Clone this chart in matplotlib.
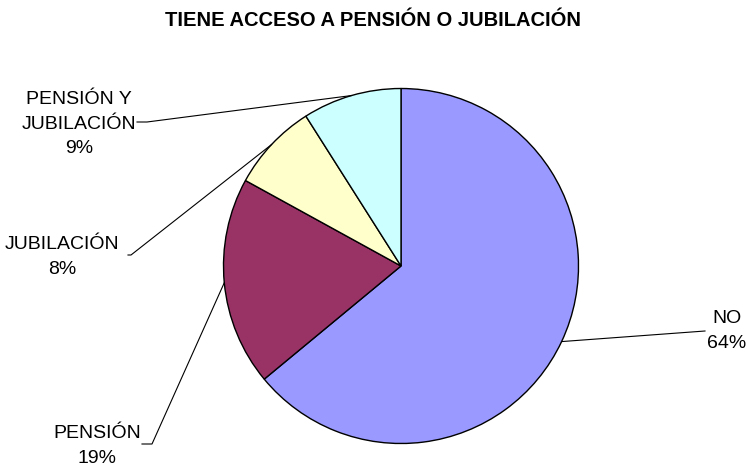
import numpy as np
import matplotlib.pyplot as plt

# slice data, in the order they go round the pie (clockwise from 12 o'clock)
labels = ['NO', 'PENSIÓN', 'JUBILACIÓN', 'PENSIÓN Y\nJUBILACIÓN']
shares = [64, 19, 8, 9]
colors = ['#9999FF', '#993366', '#FFFFCC', '#CCFFFF']

W, H = 747, 469
plt.rcParams['font.family'] = ['Liberation Sans', 'DejaVu Sans']

fig = plt.figure(figsize=(W / 100, H / 100), dpi=100)
ax = fig.add_axes([0, 0, 1, 1])

cx, cy, r = 401, H - 266, 177.5
wedges, _ = ax.pie(shares, colors=colors, startangle=90, counterclock=False,
                   center=(cx, cy), radius=r, frame=True,
                   wedgeprops=dict(edgecolor='black', linewidth=1.0))
ax.set_xlim(0, W)
ax.set_ylim(0, H)
ax.set_aspect('equal')
ax.axis('off')

# label anchors (pixel coords, y from top): text centre, line elbow points
label_pos = [(727, 331), (97, 446), (62, 257), (79, 124)]
elbows = [[(705, 331)], [(142, 444), (152, 444)], [(128, 255), (131, 255)],
          [(137, 122), (147, 122)]]

for w, lab, share, (tx, ty), elb in zip(wedges, labels, shares, label_pos, elbows):
    mid = np.deg2rad((w.theta1 + w.theta2) / 2)
    ex, ey = cx + r * np.cos(mid), cy + r * np.sin(mid)
    pts = [(x, H - y) for x, y in elb] + [(ex, ey)]
    ax.plot([p[0] for p in pts], [p[1] for p in pts], color='black', lw=0.8)
    ax.text(tx, H - ty, f'{lab}\n{share}%', ha='center', va='center',
            fontsize=14, linespacing=1.55)

fig.text(373 / W, 1 - 20 / H, 'TIENE ACCESO A PENSIÓN O JUBILACIÓN',
         ha='center', va='center', fontsize=14.5, fontweight='bold')

fig.savefig('out.png', dpi=100)
